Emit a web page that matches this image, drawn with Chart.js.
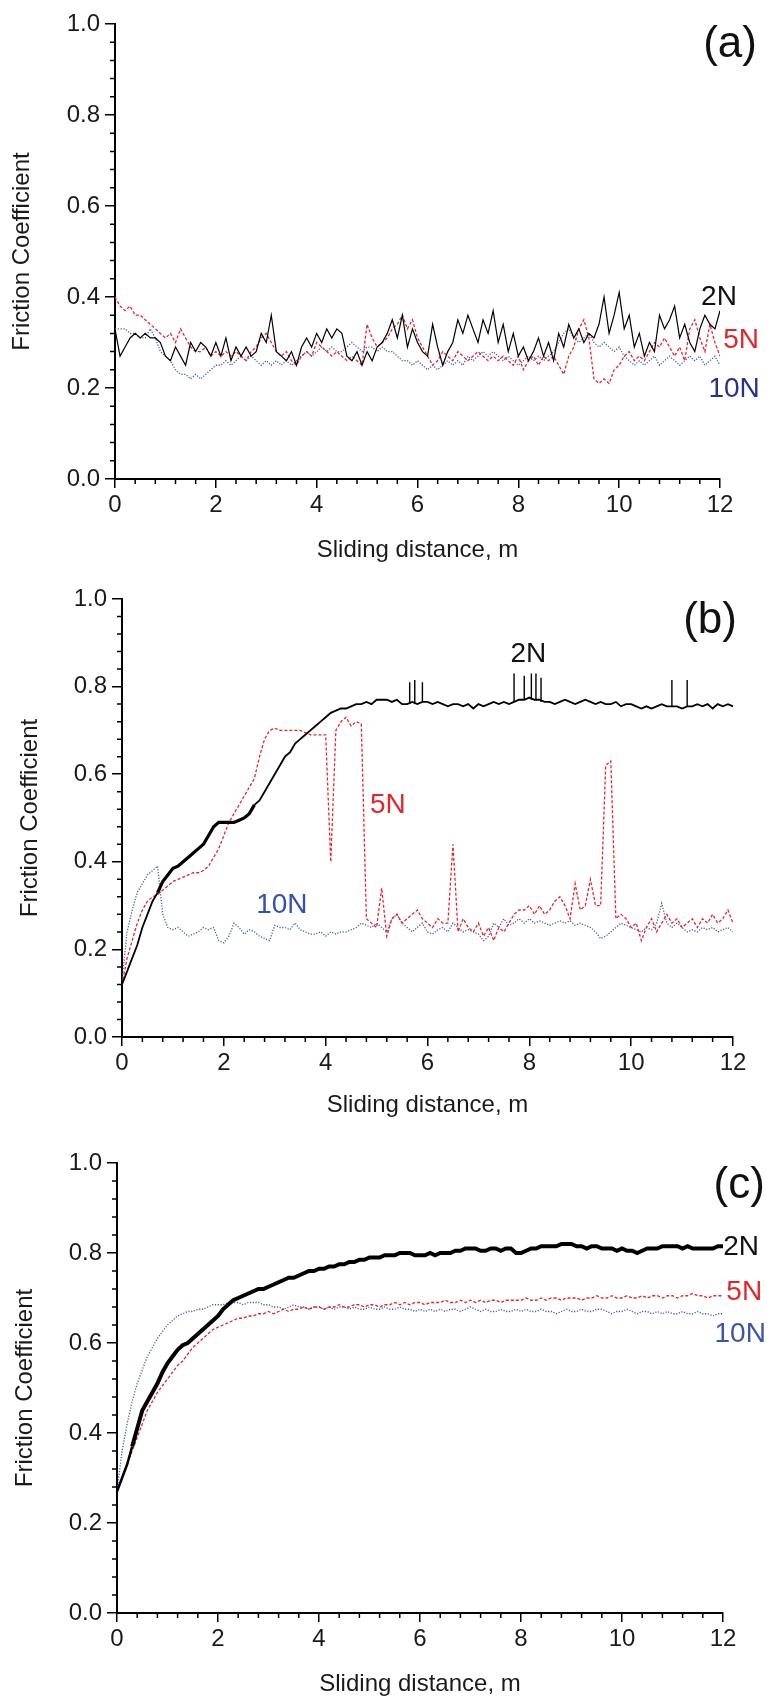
<!DOCTYPE html>
<html>
<head>
<meta charset="utf-8">
<script src="https://cdn.jsdelivr.net/npm/chart.js@4.4.1/dist/chart.umd.min.js"></script>
<style>
  html, body { margin: 0; padding: 0; background: #fff; }
  #page { position: relative; width: 767px; height: 1700px; overflow: hidden; }
  canvas { position: absolute; left: 0; }
</style>
</head>
<body>
<div id="page">
  <canvas id="chartA" width="767" height="580" style="top:0px"></canvas>
  <canvas id="chartB" width="767" height="560" style="top:575px"></canvas>
  <canvas id="chartC" width="767" height="565" style="top:1135px"></canvas>
</div>
<script>
// sliding distance, m (one sample every 0.1 m)
const distance = Array.from({ length: 121 }, (_, i) => i / 10);

// ---- panel (a) ----
const a2N = [
  0.33,0.27,0.29,0.31,0.32,0.31,0.32,0.31,0.31,0.30,
  0.27,0.26,0.29,0.27,0.25,0.30,0.28,0.30,0.29,0.27,
  0.30,0.27,0.31,0.26,0.29,0.27,0.29,0.27,0.28,0.32,
  0.30,0.36,0.28,0.27,0.26,0.28,0.25,0.29,0.31,0.29,
  0.32,0.30,0.33,0.31,0.33,0.32,0.27,0.26,0.28,0.25,
  0.28,0.26,0.29,0.30,0.32,0.35,0.31,0.36,0.29,0.33,
  0.30,0.28,0.27,0.34,0.29,0.25,0.28,0.30,0.35,0.32,
  0.36,0.33,0.30,0.35,0.32,0.37,0.30,0.34,0.28,0.32,
  0.27,0.29,0.26,0.28,0.31,0.27,0.30,0.26,0.32,0.29,
  0.34,0.31,0.33,0.30,0.32,0.31,0.34,0.40,0.32,0.36,
  0.41,0.33,0.36,0.29,0.32,0.27,0.30,0.28,0.36,0.33,
  0.35,0.38,0.31,0.34,0.30,0.28,0.33,0.36,0.34,0.33,
  0.37
];
const a5N = [
  0.40,0.38,0.37,0.38,0.36,0.36,0.35,0.34,0.33,0.32,
  0.31,0.32,0.30,0.33,0.31,0.29,0.28,0.28,0.29,0.27,
  0.28,0.27,0.28,0.27,0.28,0.27,0.26,0.28,0.29,0.31,
  0.32,0.30,0.28,0.27,0.28,0.26,0.25,0.27,0.28,0.27,
  0.30,0.29,0.28,0.27,0.28,0.27,0.26,0.27,0.26,0.25,
  0.34,0.31,0.29,0.30,0.31,0.33,0.34,0.36,0.33,0.35,
  0.31,0.29,0.27,0.25,0.26,0.28,0.27,0.26,0.28,0.27,
  0.26,0.27,0.28,0.27,0.26,0.27,0.26,0.27,0.26,0.25,
  0.27,0.24,0.26,0.27,0.25,0.27,0.26,0.27,0.25,0.23,
  0.27,0.29,0.33,0.35,0.31,0.22,0.21,0.22,0.21,0.24,
  0.25,0.27,0.28,0.26,0.27,0.26,0.28,0.30,0.29,0.31,
  0.29,0.27,0.29,0.26,0.33,0.35,0.31,0.28,0.34,0.30,
  0.27
];
const a10N = [
  0.33,0.33,0.33,0.32,0.32,0.31,0.31,0.33,0.31,0.28,
  0.27,0.26,0.24,0.23,0.23,0.22,0.23,0.22,0.23,0.24,
  0.25,0.25,0.26,0.25,0.26,0.27,0.26,0.27,0.26,0.25,
  0.26,0.25,0.26,0.25,0.26,0.25,0.26,0.27,0.28,0.27,
  0.28,0.29,0.28,0.29,0.28,0.28,0.29,0.30,0.29,0.28,
  0.29,0.29,0.28,0.29,0.28,0.28,0.27,0.26,0.26,0.25,
  0.26,0.25,0.24,0.25,0.24,0.25,0.26,0.25,0.26,0.25,
  0.27,0.26,0.27,0.28,0.27,0.28,0.27,0.26,0.27,0.26,
  0.25,0.26,0.27,0.26,0.27,0.26,0.27,0.28,0.30,0.32,
  0.33,0.31,0.30,0.31,0.32,0.30,0.29,0.30,0.29,0.28,
  0.29,0.27,0.26,0.25,0.26,0.25,0.26,0.27,0.25,0.26,
  0.27,0.26,0.25,0.26,0.27,0.26,0.27,0.25,0.26,0.27,
  0.25
];

// ---- panel (b) ----
const b2N = [
  0.12,0.15,0.18,0.21,0.25,0.28,0.31,0.33,0.355,0.37,
  0.385,0.39,0.40,0.41,0.42,0.43,0.44,0.46,0.48,0.49,
  0.49,0.49,0.49,0.495,0.50,0.51,0.53,0.54,0.56,0.58,
  0.60,0.62,0.64,0.65,0.67,0.68,0.69,0.70,0.71,0.72,
  0.73,0.74,0.745,0.75,0.75,0.755,0.76,0.76,0.765,0.76,
  0.77,0.77,0.77,0.765,0.77,0.76,0.76,0.765,0.76,0.765,
  0.765,0.76,0.765,0.76,0.755,0.76,0.76,0.755,0.76,0.75,
  0.76,0.755,0.76,0.765,0.76,0.765,0.76,0.765,0.77,0.77,
  0.775,0.77,0.77,0.765,0.765,0.76,0.765,0.77,0.765,0.76,
  0.765,0.77,0.765,0.76,0.765,0.76,0.76,0.765,0.755,0.76,
  0.76,0.755,0.75,0.755,0.75,0.755,0.76,0.755,0.755,0.755,
  0.75,0.755,0.755,0.76,0.755,0.76,0.75,0.76,0.755,0.76,
  0.755
];
// short spikes on the 2N trace of panel (b)
const b2NSpikeX = [5.65, 5.75, 5.9, 7.7, 7.9, 8.04, 8.13, 8.23, 10.8, 11.1];
const b2NSpikeLow = [0.76, 0.76, 0.765, 0.765, 0.77, 0.77, 0.77, 0.765, 0.755, 0.755];
const b2NSpikeHigh = [0.81, 0.815, 0.81, 0.83, 0.825, 0.83, 0.83, 0.82, 0.815, 0.815];

const b5N = [
  0.12,0.18,0.22,0.26,0.29,0.31,0.32,0.325,0.335,0.345,
  0.355,0.36,0.365,0.37,0.375,0.375,0.38,0.39,0.41,0.43,
  0.46,0.49,0.51,0.53,0.55,0.57,0.59,0.64,0.68,0.70,
  0.705,0.70,0.70,0.70,0.70,0.70,0.695,0.69,0.69,0.69,
  0.69,0.40,0.70,0.72,0.73,0.71,0.72,0.715,0.27,0.26,
  0.25,0.34,0.23,0.27,0.28,0.26,0.27,0.28,0.29,0.27,
  0.26,0.25,0.27,0.26,0.26,0.44,0.24,0.27,0.25,0.24,
  0.26,0.23,0.25,0.22,0.25,0.24,0.26,0.28,0.29,0.29,
  0.30,0.28,0.30,0.28,0.29,0.31,0.32,0.30,0.27,0.35,
  0.29,0.30,0.36,0.30,0.30,0.62,0.63,0.27,0.28,0.27,
  0.25,0.26,0.22,0.25,0.27,0.24,0.26,0.28,0.26,0.27,
  0.25,0.26,0.27,0.25,0.27,0.26,0.28,0.26,0.27,0.29,
  0.26
];
const b10N = [
  0.13,0.24,0.29,0.33,0.35,0.37,0.38,0.39,0.28,0.25,
  0.245,0.25,0.24,0.23,0.235,0.24,0.25,0.245,0.25,0.22,
  0.215,0.23,0.26,0.25,0.235,0.245,0.24,0.23,0.225,0.22,
  0.255,0.25,0.25,0.245,0.26,0.245,0.24,0.235,0.235,0.24,
  0.23,0.24,0.235,0.24,0.24,0.245,0.25,0.26,0.255,0.25,
  0.26,0.25,0.24,0.27,0.28,0.26,0.25,0.24,0.25,0.26,
  0.24,0.235,0.245,0.25,0.24,0.26,0.25,0.24,0.245,0.24,
  0.235,0.22,0.23,0.26,0.25,0.27,0.255,0.26,0.27,0.26,
  0.27,0.26,0.265,0.26,0.255,0.26,0.265,0.26,0.265,0.255,
  0.26,0.255,0.25,0.24,0.225,0.23,0.24,0.25,0.26,0.255,
  0.25,0.245,0.24,0.25,0.245,0.26,0.305,0.26,0.25,0.26,
  0.25,0.24,0.245,0.24,0.25,0.245,0.25,0.24,0.245,0.25,
  0.24
];

// ---- panel (c) ----
const c2N = [
  0.27,0.30,0.33,0.37,0.41,0.45,0.47,0.49,0.51,0.535,
  0.555,0.57,0.585,0.595,0.60,0.61,0.62,0.63,0.64,0.65,
  0.66,0.675,0.685,0.695,0.70,0.705,0.71,0.715,0.72,0.72,
  0.725,0.73,0.735,0.74,0.745,0.745,0.75,0.755,0.76,0.76,
  0.765,0.765,0.77,0.77,0.775,0.775,0.78,0.78,0.785,0.785,
  0.79,0.79,0.79,0.795,0.795,0.795,0.80,0.80,0.80,0.795,
  0.795,0.795,0.80,0.795,0.80,0.80,0.80,0.805,0.805,0.81,
  0.81,0.81,0.805,0.805,0.81,0.81,0.805,0.81,0.81,0.80,
  0.80,0.805,0.81,0.81,0.815,0.815,0.815,0.815,0.82,0.82,
  0.82,0.815,0.815,0.81,0.815,0.815,0.81,0.81,0.81,0.805,
  0.81,0.805,0.805,0.80,0.805,0.81,0.81,0.81,0.815,0.815,
  0.815,0.815,0.81,0.815,0.81,0.81,0.81,0.81,0.81,0.815,
  0.815
];
const c5N = [
  0.27,0.30,0.33,0.36,0.39,0.42,0.45,0.47,0.49,0.505,
  0.52,0.535,0.55,0.56,0.575,0.59,0.60,0.61,0.62,0.63,
  0.635,0.64,0.645,0.65,0.655,0.655,0.66,0.66,0.665,0.665,
  0.67,0.665,0.67,0.675,0.67,0.675,0.675,0.68,0.675,0.68,
  0.68,0.675,0.68,0.68,0.685,0.68,0.68,0.685,0.685,0.68,
  0.685,0.685,0.68,0.685,0.685,0.69,0.685,0.69,0.685,0.69,
  0.69,0.685,0.69,0.69,0.69,0.695,0.69,0.69,0.695,0.69,
  0.695,0.69,0.695,0.69,0.695,0.695,0.69,0.695,0.695,0.695,
  0.695,0.70,0.695,0.695,0.70,0.695,0.70,0.70,0.695,0.70,
  0.70,0.70,0.695,0.70,0.70,0.705,0.70,0.70,0.705,0.70,
  0.70,0.705,0.70,0.70,0.705,0.70,0.705,0.705,0.70,0.705,
  0.705,0.70,0.705,0.705,0.71,0.705,0.705,0.70,0.705,0.705,
  0.705
];
const c10N = [
  0.27,0.36,0.42,0.47,0.51,0.54,0.57,0.59,0.61,0.625,
  0.64,0.65,0.66,0.665,0.67,0.67,0.675,0.675,0.68,0.685,
  0.685,0.685,0.69,0.69,0.69,0.685,0.69,0.69,0.69,0.685,
  0.685,0.68,0.68,0.675,0.68,0.685,0.68,0.68,0.675,0.68,
  0.68,0.675,0.68,0.675,0.68,0.68,0.675,0.68,0.675,0.675,
  0.68,0.675,0.675,0.68,0.675,0.675,0.68,0.675,0.675,0.67,
  0.675,0.67,0.675,0.67,0.675,0.67,0.675,0.675,0.67,0.675,
  0.68,0.675,0.67,0.675,0.67,0.67,0.675,0.67,0.67,0.675,
  0.67,0.675,0.67,0.67,0.675,0.67,0.67,0.665,0.67,0.675,
  0.67,0.67,0.675,0.67,0.67,0.675,0.675,0.67,0.665,0.67,
  0.67,0.675,0.67,0.665,0.67,0.67,0.665,0.67,0.665,0.67,
  0.665,0.665,0.67,0.665,0.665,0.67,0.665,0.665,0.66,0.665,
  0.665
];

const xTicks = [0, 2, 4, 6, 8, 10, 12];
const yTicks = [0.0, 0.2, 0.4, 0.6, 0.8, 1.0];
const loads = ['2N', '5N', '10N'];

// text placed on each panel, in data units
const notesA = [
  { text: '(a)', x: 12.2, y: 0.955, size: 44, color: '#111' },
  { text: '2N', x: 11.98, y: 0.40, size: 28, color: '#111' },
  { text: '5N', x: 12.42, y: 0.305, size: 28, color: '#e3262c' },
  { text: '10N', x: 12.28, y: 0.197, size: 28, color: '#27308a' }
];
const notesB = [
  { text: '(b)', x: 11.55, y: 0.95, size: 44, color: '#111' },
  { text: '2N', x: 7.98, y: 0.874, size: 28, color: '#111' },
  { text: '5N', x: 5.22, y: 0.53, size: 28, color: '#e3262c' },
  { text: '10N', x: 3.14, y: 0.30, size: 28, color: '#3550ad' }
];
const notesC = [
  { text: '(c)', x: 12.32, y: 0.95, size: 44, color: '#111' },
  { text: '2N', x: 12.36, y: 0.813, size: 28, color: '#111' },
  { text: '5N', x: 12.42, y: 0.713, size: 28, color: '#e3262c' },
  { text: '10N', x: 12.34, y: 0.62, size: 28, color: '#3a55ad' }
];

const FONT = '"Liberation Sans", Arial, sans-serif';

// chart area of each panel in canvas pixels
const panels = [
  { id: 'chartA', h: 580, left: 115, right: 720, top: 24, bottom: 479, xTitle: 550, yTitle: 22,
    series: [a2N, a5N, a10N], notes: notesA,
    blackWidth: () => 1.2 },
  { id: 'chartB', h: 560, left: 122, right: 733, top: 24, bottom: 462, xTitle: 530, yTitle: 30,
    series: [b2N, b5N, b10N], notes: notesB,
    blackWidth: x => (x > 0.6 && x < 2.6 ? 3.2 : 1.8),
    spikes: { x: b2NSpikeX, low: b2NSpikeLow, high: b2NSpikeHigh } },
  { id: 'chartC', h: 565, left: 117, right: 723, top: 28, bottom: 478, xTitle: 549, yTitle: 25,
    series: [c2N, c5N, c10N], notes: notesC,
    blackWidth: x => (x < 0.3 ? 2.5 : 4) }
];

const lineLooks = [
  { color: '#000000', dash: [] },
  { color: '#e3262c', dash: [3, 2] },
  { color: '#4858b0', dash: [1.2, 1.6] }
];

function toPoints(values) {
  return values.map((v, i) => ({ x: distance[i], y: v }));
}

// each spike is a vertical stroke, separated by a gap
function spikePoints(s) {
  const pts = [];
  s.x.forEach((x, i) => {
    pts.push({ x: x, y: s.low[i] }, { x: x, y: s.high[i] }, { x: x, y: null });
  });
  return pts;
}

// minor ticks + text notes
function makeDecor(notes) {
  return {
    id: 'decor',
    afterDraw(chart) {
      const { ctx, chartArea, scales } = chart;
      const xs = scales.x, ys = scales.y;
      ctx.save();
      ctx.strokeStyle = '#000';
      ctx.lineWidth = 1.5;
      ctx.beginPath();
      for (let k = 1; k < 30; k++) {
        if (k % 5 === 0) continue;
        const px = xs.getPixelForValue(k * 0.4);
        ctx.moveTo(px, chartArea.bottom);
        ctx.lineTo(px, chartArea.bottom + 5);
      }
      for (let k = 1; k < 25; k++) {
        if (k % 5 === 0) continue;
        const py = ys.getPixelForValue(k * 0.04);
        ctx.moveTo(chartArea.left, py);
        ctx.lineTo(chartArea.left - 5, py);
      }
      ctx.stroke();

      ctx.textAlign = 'center';
      ctx.textBaseline = 'middle';
      notes.forEach(n => {
        ctx.font = n.size + 'px ' + FONT;
        ctx.fillStyle = n.color;
        ctx.fillText(n.text, xs.getPixelForValue(n.x), ys.getPixelForValue(n.y));
      });
      ctx.restore();
    }
  };
}

panels.forEach(p => {
  const datasets = p.series.map((values, i) => ({
    label: loads[i],
    data: toPoints(values),
    borderColor: lineLooks[i].color,
    borderDash: lineLooks[i].dash,
    borderWidth: i === 0 ? p.blackWidth(1) : 1.3,
    segment: i === 0 ? { borderWidth: ctx => p.blackWidth(ctx.p0.parsed.x) } : undefined,
    pointRadius: 0,
    tension: 0,
    fill: false
  }));
  if (p.spikes) {
    datasets.splice(1, 0, {
      label: '2N spikes',
      data: spikePoints(p.spikes),
      borderColor: '#000',
      borderWidth: 1.4,
      pointRadius: 0,
      spanGaps: false,
      fill: false
    });
  }

  new Chart(document.getElementById(p.id), {
    type: 'line',
    data: { datasets: datasets },
    options: {
      responsive: false,
      animation: false,
      events: [],
      layout: { padding: { left: 0, top: p.top, right: 767 - p.right, bottom: 0 } },
      plugins: { legend: { display: false }, tooltip: { enabled: false } },
      scales: {
        x: {
          type: 'linear',
          min: 0,
          max: 12,
          afterBuildTicks: s => { s.ticks = xTicks.map(v => ({ value: v })); },
          afterFit: s => { s.height = p.h - p.bottom; },
          ticks: { color: '#1a1a1a', font: { family: FONT, size: 24 }, padding: 3, maxRotation: 0 },
          grid: { drawOnChartArea: false, drawTicks: true, tickLength: 9, color: '#000', lineWidth: 1.5 },
          border: { display: true, color: '#000', width: 2 },
          title: {
            display: true,
            text: 'Sliding distance, m',
            color: '#1a1a1a',
            font: { family: FONT, size: 24, lineHeight: 1.2 },
            padding: { top: 0, bottom: p.h - p.xTitle - 14.4 }
          }
        },
        y: {
          type: 'linear',
          min: 0,
          max: 1,
          afterBuildTicks: s => { s.ticks = yTicks.map(v => ({ value: v })); },
          afterFit: s => { s.width = p.left; },
          ticks: {
            color: '#1a1a1a',
            font: { family: FONT, size: 24 },
            padding: 5,
            callback: v => Number(v).toFixed(1)
          },
          grid: { drawOnChartArea: false, drawTicks: true, tickLength: 10, color: '#000', lineWidth: 1.5 },
          border: { display: true, color: '#000', width: 2 },
          title: {
            display: true,
            text: 'Friction Coefficient',
            color: '#1a1a1a',
            font: { family: FONT, size: 24, lineHeight: 1.2 },
            padding: { top: p.yTitle - 14.4, bottom: 0 }
          }
        }
      }
    },
    plugins: [makeDecor(p.notes)]
  });
});
</script>
</body>
</html>
